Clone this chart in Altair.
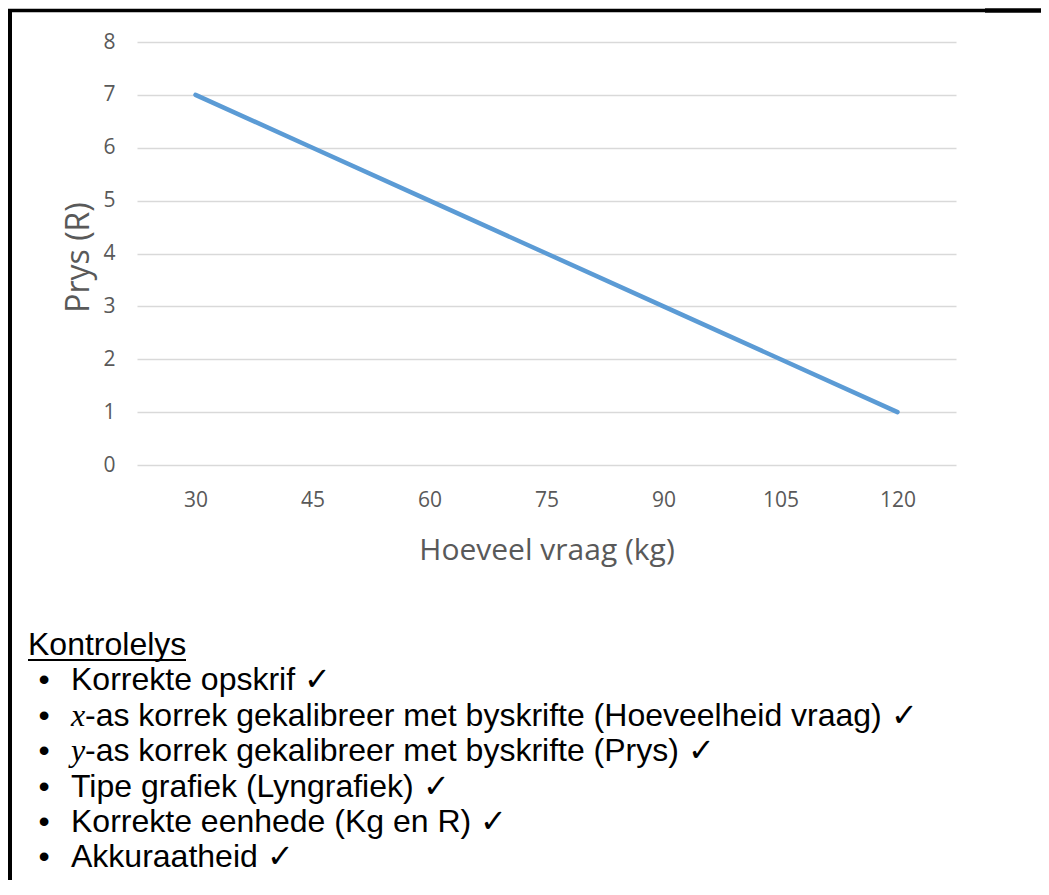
import altair as alt
import pandas as pd

# ---- data ----
quantity = [30, 45, 60, 75, 90, 105, 120]
price = [7, 6, 5, 4, 3, 2, 1]
y_ticks = [0, 1, 2, 3, 4, 5, 6, 7, 8]

heading = "Kontrolelys"
item_prefix = ["", "x", "y", "", "", ""]
item_text = [
    "Korrekte opskrif \u2713",
    "-as korrek gekalibreer met byskrifte (Hoeveelheid vraag) \u2713",
    "-as korrek gekalibreer met byskrifte (Prys) \u2713",
    "Tipe grafiek (Lyngrafiek) \u2713",
    "Korrekte eenhede (Kg en R) \u2713",
    "Akkuraatheid \u2713",
]

df = pd.DataFrame({"q": [str(v) for v in quantity], "p": price})
items = pd.DataFrame({
    "row": list(range(1, len(item_text) + 1)),
    "prefix": item_prefix,
    "text": item_text,
    "bullet": ["\u2022"] * len(item_text),
})
head_df = pd.DataFrame({"row": [0], "text": [heading]})

W, H = 819, 423
CHART_FONT = "Open Sans"
GREY = "#595959"

line = alt.Chart(df).mark_line(
    color="#5B9BD5", strokeWidth=4.5, strokeCap="round", strokeJoin="round"
).encode(
    x=alt.X("q:O", sort=[str(v) for v in quantity],
            scale=alt.Scale(type="point", padding=0.5),
            axis=alt.Axis(title="Hoeveel vraag (kg)", labelAngle=0, grid=False,
                          domain=False, ticks=False, tickSize=0, labelPadding=24,
                          labelFont=CHART_FONT, labelFontSize=21, labelColor=GREY,
                          titleFont=CHART_FONT, titleFontSize=30, titleColor=GREY,
                          titleFontWeight="normal", titleX=409.5, titleY=85,
                          titleAlign="center", titleBaseline="middle")),
    y=alt.Y("p:Q", scale=alt.Scale(domain=[0, 8], nice=False),
            axis=alt.Axis(title="Prys (R)", values=y_ticks, grid=True,
                          gridColor="#D9D9D9", gridWidth=1.3, domain=False,
                          ticks=False, tickSize=0, labelPadding=22,
                          labelFont=CHART_FONT, labelFontSize=21, labelColor=GREY,
                          titleFont=CHART_FONT, titleFontSize=32, titleColor=GREY,
                          titleFontWeight="normal", titleX=-59, titleY=215,
                          titleAlign="center", titleBaseline="middle")),
)

row_scale = alt.Scale(domain=[0, 6], range=[613, 613 + 6 * 35.4])
TXT_FONT = "Liberation Sans"
TXT_SIZE = 32

head = alt.Chart(head_df).mark_text(
    align="left", baseline="alphabetic", font=TXT_FONT, fontSize=TXT_SIZE, color="black"
).encode(x=alt.value(-109), y=alt.Y("row:Q", scale=row_scale, axis=None), text="text:N")

underline = alt.Chart(head_df).mark_rule(color="black", strokeWidth=2).encode(
    x=alt.value(-109), x2=alt.value(49),
    y=alt.Y("row:Q", scale=row_scale, axis=None),
    yOffset=alt.value(5),
)

bullets = alt.Chart(items).mark_text(
    align="center", baseline="alphabetic", font=TXT_FONT, fontSize=TXT_SIZE, color="black"
).encode(x=alt.value(-93), y=alt.Y("row:Q", scale=row_scale, axis=None), text="bullet:N")

plain = alt.Chart(items).transform_filter("datum.prefix == ''").mark_text(
    align="left", baseline="alphabetic", font=TXT_FONT, fontSize=TXT_SIZE, color="black"
).encode(x=alt.value(-66), y=alt.Y("row:Q", scale=row_scale, axis=None), text="text:N")

pref = alt.Chart(items).transform_filter("datum.prefix != ''").mark_text(
    align="left", baseline="alphabetic", font="Liberation Serif", fontStyle="italic",
    fontSize=TXT_SIZE, color="black"
).encode(x=alt.value(-66), y=alt.Y("row:Q", scale=row_scale, axis=None), text="prefix:N")

pref_rest = alt.Chart(items).transform_filter("datum.prefix != ''").mark_text(
    align="left", baseline="alphabetic", font=TXT_FONT, fontSize=TXT_SIZE, color="black", dx=14
).encode(x=alt.value(-66), y=alt.Y("row:Q", scale=row_scale, axis=None), text="text:N")

border_left = alt.Chart(head_df).mark_rule(color="black", strokeWidth=4).encode(
    x=alt.value(-127), y=alt.value(-33), y2=alt.value(900))
border_top = alt.Chart(head_df).mark_rule(color="black", strokeWidth=3.5).encode(
    x=alt.value(-129), x2=alt.value(848), y=alt.value(-31.5))
border_top_r = alt.Chart(head_df).mark_rule(color="black", strokeWidth=4.5).encode(
    x=alt.value(848), x2=alt.value(920), y=alt.value(-31.5))

text_layers = alt.layer(head, underline, bullets, plain, pref, pref_rest)

chart = alt.layer(
    line, text_layers, border_left, border_top, border_top_r
).resolve_scale(y="independent", x="independent").properties(
    width=W, height=H,
    autosize=alt.AutoSizeParams(type="none"),
    padding={"left": 129, "top": 34, "right": 85, "bottom": 415},
).configure_view(stroke=None)

chart.save("out.html", embed_options={"renderer": "svg", "actions": False})
